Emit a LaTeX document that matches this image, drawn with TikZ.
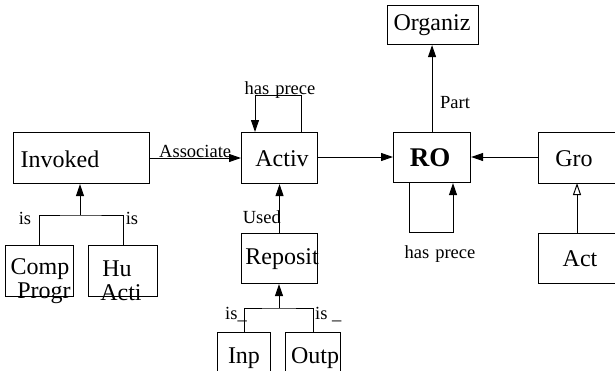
\documentclass[tikz,border=0pt]{standalone}
\usepackage{fontspec}
\setmainfont{Liberation Serif}
\usetikzlibrary{arrows.meta}
\begin{document}
\begin{tikzpicture}[x=1pt,y=-1pt,
  box/.style={draw,line width=1.1pt,inner sep=0pt,anchor=north west},
  big/.style={font=\fontsize{24}{26}\selectfont,inner sep=0pt},
  lab/.style={font=\fontsize{18.5}{20}\selectfont,inner sep=0pt},
  conn/.style={line width=1pt},
  arr/.style={conn,-{Triangle[length=12pt,width=8pt]}},
  oarr/.style={conn,-{Triangle[open,length=12pt,width=8pt]}}]
\useasboundingbox (0,0) rectangle (615,370);
% boxes
\node[box,minimum width=136pt,minimum height=51pt] (inv) at (13,132) {};
\node[box,minimum width=68pt,minimum height=51pt] (comp) at (5,245) {};
\node[box,minimum width=69pt,minimum height=51pt] (hu) at (88,245) {};
\node[box,minimum width=76pt,minimum height=51pt] (act) at (241,132) {};
\node[box,minimum width=76pt,minimum height=50pt] (rep) at (241,233) {};
\node[box,minimum width=53pt,minimum height=50pt] (inp) at (217,332) {};
\node[box,minimum width=55pt,minimum height=50pt] (outp) at (285,332) {};
\node[box,minimum width=77pt,minimum height=50pt] (ro) at (393,132) {};
\node[box,minimum width=91pt,minimum height=39pt] (org) at (387,5) {};
\node[box,minimum width=82pt,minimum height=51pt] (gro) at (538,132) {};
\node[box,minimum width=82pt,minimum height=50pt] (actg) at (538,233) {};
% box texts
\node[big] (tinv) at (60,159) {Invoked};
\node[big] (tcomp) at (40,269) {Comp};
\node[big] (tprogr) at (44,293) {Progr};
\node[big] (thu) at (117,269) {Hu};
\node[big] (tacti) at (121,293) {Acti};
\node[big] (tact) at (282,159) {Activ};
\node[big] (trep) at (282,259) {Reposit};
\node[big] (tinp) at (244,358) {Inp};
\node[big] (toutp) at (315,358) {Outp};
\node[big,font=\fontsize{27}{29}\selectfont\bfseries] (tro) at (430,158) {RO};
\node[big] (torg) at (432,25) {Organiz};
\node[big] (tgro) at (574,159) {Gro};
\node[big] (tactg) at (580,259) {Act};
% connectors
\draw[arr] (inv.east |- 0,158) -- (act.west |- 0,158);
\draw[arr] (act.east |- 0,157) -- (ro.west |- 0,157);
\draw[arr] (gro.west |- 0,157) -- (ro.east |- 0,157);
\draw[arr] (ro.north) -- (ro.north |- org.south);
\coordinate (rl1) at (409,232);
\coordinate (rl2) at (453,232);
\draw[arr] (rl1 |- ro.south) -- (rl1) -- (rl2) -- (rl2 |- ro.south);
\coordinate (al1) at (301,95);
\coordinate (al2) at (255,95);
\draw[arr] (al1 |- act.north) -- (al1) -- (al2) -- (al2 |- act.north);
\draw[arr] (rep.north) -- (rep.north |- act.south);
\coordinate (rb) at (279,308);
\draw[conn] (inp.north) |- (rb) -| (outp.north);
\draw[arr] (rb) -- (rb |- rep.south);
\coordinate (ib) at (80,215);
\draw[conn] (comp.north) |- (ib) -| (hu.north);
\draw[arr] (ib) -- (ib |- inv.south);
\draw[oarr] (577,233) -- (577,183);
% labels
\node[lab,anchor=base west] (lassoc) at (159,157) {Associate};
\node[lab,anchor=base] (lhp1) at (280,94) {has\hspace{6pt}prece};
\node[lab,anchor=east] (lused) at (281,217) {Used};
\node[lab,anchor=west] (lpart) at (440,103) {Part};
\node[lab] (lhp2) at (440,254) {has\hspace{6pt}prece};
\node[lab] (lis1) at (25,218) {is};
\node[lab] (lis2) at (132,218) {is};
\node[lab,anchor=west] (lis3) at (225,315) {is\_};
\node[lab,anchor=west] (lis4) at (315,315) {is \_};
\end{tikzpicture}
\end{document}
